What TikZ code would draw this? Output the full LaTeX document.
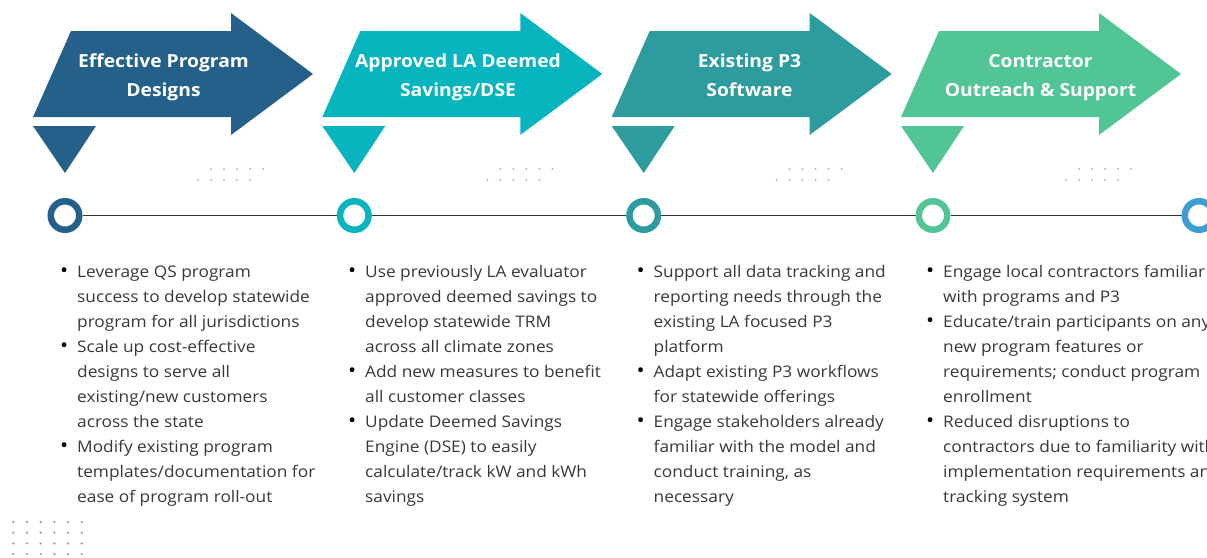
\documentclass[tikz,border=0pt]{standalone}
\usepackage{fontspec}
\setmainfont{Open Sans}
\newfontfamily\headfont[FakeStretch=1.07]{Open Sans}
\newfontfamily\listfont[FakeStretch=1.08]{Open Sans}
\usetikzlibrary{backgrounds}
\definecolor{cA}{HTML}{25608A}
\definecolor{cB}{HTML}{08B5BF}
\definecolor{cC}{HTML}{2E9C9E}
\definecolor{cD}{HTML}{52C597}
\definecolor{cE}{HTML}{3E9DD3}
\definecolor{bodyink}{HTML}{383838}
\definecolor{lineink}{HTML}{333333}
\definecolor{dotgray}{HTML}{ABABAB}
\definecolor{dotblue}{HTML}{8EA7BF}
\newcommand{\bul}{\llap{\textcolor{black}{\scalebox{1.25}{\textbullet}}\hspace{9pt}}}
\begin{document}
\begin{tikzpicture}[x=1pt,y=-1pt,
  ring/.style={circle, draw=#1, line width=6.5pt, fill=white, minimum size=28.5pt, inner sep=0pt},
  heading/.style={text=white, font=\headfont\bfseries\fontsize{18}{29}\selectfont, align=center, inner sep=0pt},
  bodylist/.style={text=bodyink, font=\listfont\fontsize{16}{25}\selectfont, align=left, inner sep=0pt},
  timeline/.style={draw=lineink, line width=1.8pt}]
\useasboundingbox (0,0) rectangle (1207,557);
\begin{scope}
\clip (0,0) rectangle (1207,557);
% four arrow banners with pointers, dot grids and timeline rings
\foreach \x/\col [count=\i] in {33/cA, 322.3/cB, 611.7/cC, 901/cD} {
  \fill[\col] (\x,117) -- (\x+38,31) -- (\x+198,31) -- (\x+198,13) -- (\x+280,74)
     -- (\x+198,135) -- (\x+198,117) -- cycle;
  \fill[\col] (\x,126) -- (\x+63,126) -- (\x+32,173) -- cycle;
  \foreach \k in {0,...,4} {
    \fill[dotgray] (\x+178+13*\k,169) circle (1);
    \fill[dotgray] (\x+165+13*\k,180) circle (1);
  }
  \node[ring=\col] (c\i) at (\x+32,215.5) {};
}
\node[ring=cE] (c5) at (1199,215.5) {};
\begin{scope}[on background layer]
  \draw[timeline] (c1) -- (c2) -- (c3) -- (c4) -- (c5);
\end{scope}
% banner headings (anchored at the baseline of their last line)
\node[heading, anchor=base] (t1) at (163.5,96.5) {Effective Program\\Designs};
\node[heading, anchor=base] (t2) at (458,96) {Approved LA Deemed\\Savings/DSE};
\node[heading, anchor=base] (t3) at (749.5,96) {Existing P3\\Software};
\node[heading, anchor=base] (t4) at (1040.5,96) {Contractor\\Outreach \& Support};
% bullet lists (anchored at the baseline of their last line)
\node[bodylist, anchor=base west] (l1) at (77,502) {%
\bul Leverage QS program\\ success to develop statewide\\ program for all jurisdictions\\
\bul Scale up cost-effective\\ designs to serve all\\ existing/new customers\\ across the state\\
\bul Modify existing program\\ templates/documentation for\\ ease of program roll-out};
\node[bodylist, anchor=base west] (l2) at (365,502) {%
\bul Use previously LA evaluator\\ approved deemed savings to\\ develop statewide TRM\\ across all climate zones\\
\bul Add new measures to benefit\\ all customer classes\\
\bul Update Deemed Savings\\ Engine (DSE) to easily\\ calculate/track kW and kWh\\ savings};
\node[bodylist, anchor=base west] (l3) at (653.5,502) {%
\bul Support all data tracking and\\ reporting needs through the\\ existing LA focused P3\\ platform\\
\bul Adapt existing P3 workflows\\ for statewide offerings\\
\bul Engage stakeholders already\\ familiar with the model and\\ conduct training, as\\ necessary};
\node[bodylist, anchor=base west] (l4) at (943,502) {%
\bul Engage local contractors familiar\\ with programs and P3\\
\bul Educate/train participants on any\\ new program features or\\ requirements; conduct program\\ enrollment\\
\bul Reduced disruptions to\\ contractors due to familiarity with\\ implementation requirements and\\ tracking system};
% corner dot grid
\foreach \r in {0,...,3} {
  \foreach \k in {0,...,5} {
    \fill[dotblue] (13.3+13.7*\k,522+10.7*\r) circle (1.3);
  }
}
\end{scope}
\end{tikzpicture}
\end{document}
